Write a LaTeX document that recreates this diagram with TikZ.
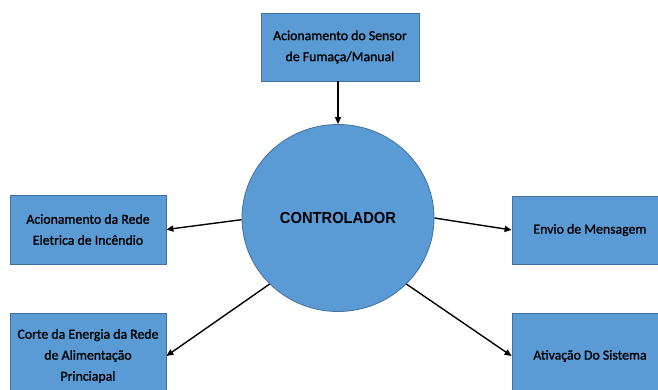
\documentclass[tikz,border=0pt]{standalone}
\usepackage{fontspec}
\setmainfont{Carlito}
\newfontfamily\boxfont[FakeBold=1.2]{Carlito}
\newfontfamily\ctrlfont[FakeStretch=0.92]{Liberation Sans}
\usetikzlibrary{arrows.meta,shapes.geometric}
\definecolor{boxblue}{HTML}{5B9BD5}
\definecolor{boxborder}{HTML}{41719C}
\tikzset{
  box/.style={rectangle, fill=boxblue, draw=boxborder, line width=0.8pt, inner sep=0pt,
    align=center, text=black, font=\boxfont\fontsize{13.8}{21}\selectfont},
  ctrl/.style={ellipse, fill=boxblue, draw=boxborder, line width=0.8pt, inner sep=0pt,
    minimum width=192pt, minimum height=187pt, font=\ctrlfont\bfseries\fontsize{16}{18}\selectfont},
  conn/.style={draw=black, line width=1.4pt, -{Triangle[length=7pt,width=6pt]}}
}
\begin{document}
\begin{tikzpicture}[x=1pt,y=-1pt]
\fill[white] (0,0) rectangle (658,390);
\useasboundingbox (0,0) rectangle (658,390);
\clip (0,0) rectangle (658,390);
\node[box, minimum width=158pt, minimum height=68pt] (top) at (340,47) {Acionamento do Sensor\\de Fumaça/Manual};
\node[ctrl] (c) at (338,218) {CONTROLADOR};
\node[box, minimum width=156pt, minimum height=69pt] (l1) at (88,229.5) {Acionamento da Rede\\Eletrica de Incêndio};
\node[box, minimum width=156pt, minimum height=86pt] (l2) at (88,356) {Corte da Energia da Rede\\de Alimentação\\Princiapal};
\node[box, minimum width=156pt, minimum height=68pt] (r1) at (590,230) {Envio de Mensagem};
\node[box, minimum width=156pt, minimum height=86pt] (r2) at (590,356) {Ativação Do Sistema};
\draw[conn] (top.south -| c.north) -- (c.north);
\draw[conn] (c.181) -- (l1.east);
\draw[conn] (c.224) -- (l2.east);
\draw[conn] (c.0) -- (r1.west);
\draw[conn] (c.-44) -- (r2.west);
\end{tikzpicture}
\end{document}
